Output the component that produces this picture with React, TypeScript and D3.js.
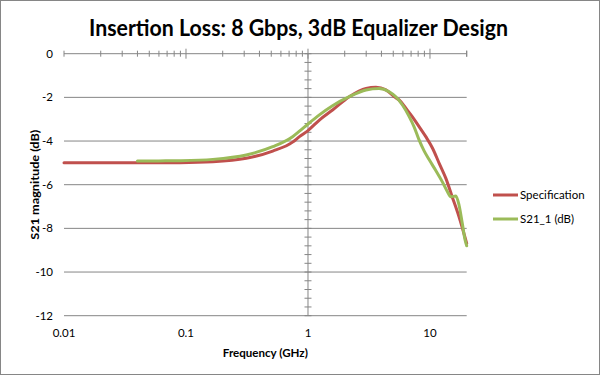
import React from "react";
import * as d3 from "d3";

const title = "Insertion Loss: 8 Gbps, 3dB Equalizer Design";
const xTitle = "Frequency (GHz)";
const yTitle = "S21 magnitude (dB)";
const seriesNames = ["Specification", "S21_1 (dB)"];
const seriesColors = ["#C0504D", "#9BBB59"];

const xTickValues = [0.01, 0.1, 1, 10];
const xTickLabels = ["0.01", "0.1", "1", "10"];
const yTickValues = [0, -2, -4, -6, -8, -10, -12];
const yTickLabels = ["0", "-2", "-4", "-6", "-8", "-10", "-12"];

const specFreq = [0.01, 0.03, 0.089, 0.166, 0.312, 0.514, 0.748, 0.851, 1.0, 1.24, 1.59, 2.18, 2.99, 3.61, 4.35, 5.25, 5.59, 6.34, 7.18, 8.14, 9.24, 10.5, 11.9, 13.5, 15.2, 17.3, 20];
const specDb = [-5.0, -5.0, -4.99, -4.95, -4.79, -4.46, -4.05, -3.8, -3.52, -3.04, -2.58, -1.97, -1.59, -1.54, -1.66, -2.02, -2.12, -2.5, -2.89, -3.34, -3.8, -4.33, -5.02, -5.71, -6.55, -7.47, -8.69];

const s21Freq = [0.04, 0.06, 0.089, 0.166, 0.312, 0.514, 0.748, 0.851, 1.0, 1.24, 1.59, 2.18, 2.99, 3.83, 4.63, 5.25, 5.95, 6.74, 7.41, 8.14, 8.95, 9.84, 11.1, 12.6, 13.9, 14.8, 16.3, 17.3, 18.4, 19.4, 20];
const s21Db = [-4.92, -4.91, -4.9, -4.84, -4.64, -4.26, -3.8, -3.55, -3.22, -2.8, -2.38, -1.97, -1.66, -1.59, -1.74, -1.97, -2.35, -2.87, -3.35, -3.95, -4.45, -4.85, -5.33, -5.86, -6.32, -6.55, -6.52, -6.93, -7.77, -8.53, -8.8];

const W = 600;
const H = 375;
const plot = { left: 64, right: 466.7, top: 53.7, bottom: 315.7 };
const FONT = "Lato, 'Open Sans', sans-serif";

export default function App() {
  const x = d3.scaleLog().domain([0.01, 20]).range([plot.left, plot.right]);
  const y = d3.scaleLinear().domain([-12, 0]).range([plot.bottom, plot.top]);

  const line = d3
    .line<[number, number]>()
    .x((d) => x(d[0]))
    .y((d) => y(d[1]))
    .curve(d3.curveMonotoneX);

  const series = [
    specFreq.map((f, i) => [f, specDb[i]] as [number, number]),
    s21Freq.map((f, i) => [f, s21Db[i]] as [number, number]),
  ];

  // minor ticks on the log axis (2..9 in each decade)
  const minorX: number[] = [];
  for (let e = -2; e <= 1; e++) {
    for (let m = 2; m <= 9; m++) {
      const v = m * Math.pow(10, e);
      if (v <= 20) minorX.push(v);
    }
  }
  const minorY = d3.range(0, -12.0001, -0.4);

  const axisColor = "#868686";
  const axisY0 = y(0);
  const axisX1 = x(1);

  return (
    <svg
      width={W}
      height={H}
      style={{ position: "absolute", left: 0, top: 0, background: "#fff" }}
    >
      <rect x={0.5} y={0.5} width={W - 1} height={H - 1} fill="#fff" stroke="#868686" />
      <text
        x={298.5}
        y={36}
        textAnchor="middle"
        fontFamily={FONT}
        fontSize={23}
        fontWeight={700}
        fill="#000"
        textLength={419}
        lengthAdjust="spacingAndGlyphs"
      >
        {title}
      </text>

      {/* gridlines */}
      {yTickValues
        .filter((v) => v !== 0)
        .map((v) => (
          <line key={v} x1={plot.left} x2={plot.right} y1={y(v)} y2={y(v)} stroke={axisColor} strokeWidth={1} />
        ))}

      {/* x axis at y = 0 */}
      <line x1={plot.left} x2={plot.right} y1={axisY0} y2={axisY0} stroke={axisColor} strokeWidth={1} />
      {xTickValues.map((v) => (
        <line key={"M" + v} x1={x(v)} x2={x(v)} y1={axisY0 - (v === 0.01 ? 3 : 5)} y2={axisY0 + (v === 0.01 ? 3 : 5)} stroke={axisColor} />
      ))}
      {minorX.map((v) => (
        <line key={"m" + v} x1={x(v)} x2={x(v)} y1={axisY0 - 3} y2={axisY0 + 3} stroke={axisColor} />
      ))}
      <line x1={plot.right} x2={plot.right} y1={axisY0 - 3} y2={axisY0 + 3} stroke={axisColor} />

      {/* y axis at x = 1 */}
      <line x1={axisX1} x2={axisX1} y1={plot.top} y2={plot.bottom} stroke={axisColor} strokeWidth={1} />
      {minorY.map((v, i) => (
        <line key={"y" + i} x1={axisX1 - 3.5} x2={axisX1 + 3.5} y1={y(v)} y2={y(v)} stroke={axisColor} />
      ))}

      {/* tick labels */}
      {yTickValues.map((v, i) => (
        <text key={"yl" + v} x={53} y={y(v)} dy="0.35em" textAnchor="end" fontFamily={FONT} fontSize={11.5} fill="#000">
          {yTickLabels[i]}
        </text>
      ))}
      {xTickValues.map((v, i) => (
        <text key={"xl" + v} x={x(v)} y={337} textAnchor="middle" fontFamily={FONT} fontSize={11.5} fill="#000">
          {xTickLabels[i]}
        </text>
      ))}

      {/* axis titles */}
      <text
        x={(plot.left + plot.right) / 2}
        y={357}
        textAnchor="middle"
        fontFamily={FONT}
        fontSize={12}
        fontWeight={700}
        fill="#000"
        textLength={85}
        lengthAdjust="spacingAndGlyphs"
      >
        {xTitle}
      </text>
      <text
        transform={`translate(39,${(plot.top + plot.bottom) / 2}) rotate(-90)`}
        textAnchor="middle"
        fontFamily={FONT}
        fontSize={12}
        fontWeight={700}
        fill="#000"
        textLength={110}
        lengthAdjust="spacingAndGlyphs"
      >
        {yTitle}
      </text>

      {/* series */}
      {series.map((s, i) => (
        <path key={i} d={line(s) || ""} fill="none" stroke={seriesColors[i]} strokeWidth={3} strokeLinejoin="round" strokeLinecap="round" />
      ))}

      {/* legend */}
      {seriesNames.map((n, i) => (
        <g key={n}>
          <line x1={493} x2={518} y1={195 + i * 24} y2={195 + i * 24} stroke={seriesColors[i]} strokeWidth={3} />
          <text x={520} y={195 + i * 24} dy="0.35em" fontFamily={FONT} fontSize={11.5} fill="#000">
            {n}
          </text>
        </g>
      ))}
    </svg>
  );
}
